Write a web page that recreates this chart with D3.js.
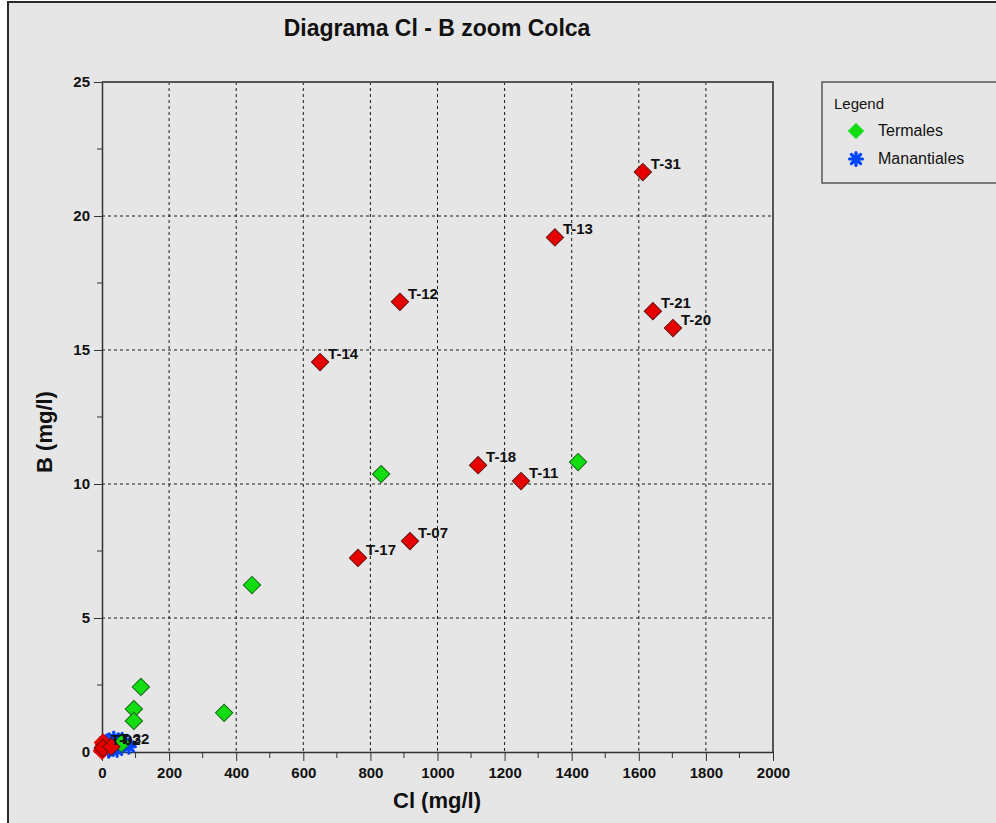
<!DOCTYPE html>
<html>
<head>
<meta charset="utf-8">
<script src="https://cdn.jsdelivr.net/npm/d3@7"></script>
<style>
  html, body { margin: 0; padding: 0; background: #ffffff; }
  svg { display: block; }
  .narrow { font-family: "Liberation Sans", Arial, sans-serif; font-weight: bold; }
  .reg { font-family: "Liberation Sans", Arial, sans-serif; }
</style>
</head>
<body>
<svg id="chart" width="996" height="823"></svg>
<script>
// Thermal springs (green diamonds) – Cl (mg/l), B (mg/l)
const termalesCl = [832, 1419, 447, 364, 116, 95, 95, 58];
const termalesB  = [10.37, 10.82, 6.23, 1.46, 2.43, 1.6, 1.16, 0.32];

// Labelled thermal sites (red diamonds)
const sitiosId = ["T-31", "T-13", "T-12", "T-14", "T-21", "T-20", "T-18", "T-11", "T-07", "T-17", "T-02", "T-32"];
const sitiosCl = [1612, 1350, 888, 650, 1642, 1702, 1121, 1249, 918, 763, 2, 28];
const sitiosB  = [21.64, 19.2, 16.8, 14.55, 16.45, 15.82, 10.7, 10.11, 7.87, 7.24, 0.15, 0.2];

// Extra unlabelled sites stacked at the origin
const origenCl = [0, 6, 3];
const origenB  = [0.05, 0.25, 0.35];

// Cold springs (blue asterisks)
const manantialesCl = [5, 12, 20, 30, 40, 50, 60, 15, 25, 45, 70, 35, 8, 80];
const manantialesB  = [0.1, 0.25, 0.05, 0.3, 0.2, 0.4, 0.45, 0.4, 0.12, 0.08, 0.35, 0.5, 0.35, 0.2];

// Axis ticks
const xMajor = [0, 200, 400, 600, 800, 1000, 1200, 1400, 1600, 1800, 2000];
const yMajor = [0, 5, 10, 15, 20, 25];

const legendItems = ["Termales", "Manantiales"];

const svg = d3.select("#chart");
const W = 996, H = 823;
const plot = { left: 102, right: 773, top: 82, bottom: 752 };

// panel background and frame
svg.append("rect").attr("x", 8).attr("y", 2).attr("width", W).attr("height", H)
  .attr("fill", "#e6e6e6");
svg.append("path").attr("d", `M8,${H} V2 H${W}`).attr("fill", "none")
  .attr("stroke", "#2a2a2a").attr("stroke-width", 2);

const x = d3.scaleLinear().domain([0, 2000]).range([plot.left, plot.right]);
const y = d3.scaleLinear().domain([0, 25]).range([plot.bottom, plot.top]);

// dashed grid
const grid = svg.append("g");
grid.selectAll(".gx").data(xMajor.slice(1, -1)).join("line")
  .attr("x1", d => x(d)).attr("x2", d => x(d))
  .attr("y1", plot.top).attr("y2", plot.bottom)
  .attr("stroke", "#1a1a1a").attr("stroke-width", 1).attr("stroke-dasharray", "3,3");
grid.selectAll(".gy").data(yMajor.slice(1, -1)).join("line")
  .attr("y1", d => y(d)).attr("y2", d => y(d))
  .attr("x1", plot.left).attr("x2", plot.right)
  .attr("stroke", "#1a1a1a").attr("stroke-width", 1).attr("stroke-dasharray", "3,3");

// frame top / right
svg.append("path").attr("d", `M${plot.left},${plot.top} H${plot.right} V${plot.bottom}`)
  .attr("fill", "none").attr("stroke", "#555").attr("stroke-width", 2);

// minor ticks
const xMinor = d3.range(100, 2000, 200);
const yMinor = d3.range(2.5, 25, 5);

const xAxis = d3.axisBottom(x).tickValues(xMajor).tickFormat(d3.format("d"))
  .tickSize(9).tickSizeOuter(0).tickPadding(6);
const gx = svg.append("g").attr("transform", `translate(0,${plot.bottom})`).call(xAxis);
gx.select(".domain").attr("stroke", "#333").attr("stroke-width", 1.5);
gx.selectAll(".tick line").attr("stroke", "#333");
gx.selectAll(".tick text").attr("class", "narrow").attr("font-size", 15).attr("fill", "#111");
gx.selectAll(".mtick").data(xMinor).join("line")
  .attr("x1", d => x(d)).attr("x2", d => x(d)).attr("y1", 0).attr("y2", 6).attr("stroke", "#333");

const yAxis = d3.axisLeft(y).tickValues(yMajor).tickFormat(d3.format("d"))
  .tickSize(8).tickSizeOuter(0).tickPadding(4);
const gy = svg.append("g").attr("transform", `translate(${plot.left},0)`).call(yAxis);
gy.select(".domain").attr("stroke", "#333").attr("stroke-width", 1.5);
gy.selectAll(".tick line").attr("stroke", "#333");
gy.selectAll(".tick text").attr("class", "narrow").attr("font-size", 15).attr("fill", "#111");
gy.selectAll(".mtick").data(yMinor).join("line")
  .attr("y1", d => y(d)).attr("y2", d => y(d)).attr("x1", 0).attr("x2", -5).attr("stroke", "#333");

// titles
svg.append("text").attr("class", "narrow").attr("x", 437).attr("y", 36)
  .attr("text-anchor", "middle").attr("font-size", 23).attr("fill", "#111")
  .text("Diagrama Cl - B zoom Colca");
svg.append("text").attr("class", "narrow").attr("x", 437).attr("y", 808)
  .attr("text-anchor", "middle").attr("font-size", 22).attr("fill", "#111")
  .text("Cl (mg/l)");
svg.append("text").attr("class", "narrow")
  .attr("transform", "translate(52,432) rotate(-90)")
  .attr("text-anchor", "middle").attr("font-size", 22).attr("fill", "#111")
  .text("B (mg/l)");

// marker helpers
const diamond = d3.symbol().type(d3.symbolSquare).size(150);
const asteriskPath = (r) => {
  let p = "";
  for (let k = 0; k < 4; k++) {
    const a = k * Math.PI / 4;
    const dx = r * Math.cos(a), dy = r * Math.sin(a);
    p += `M${-dx},${-dy}L${dx},${dy}`;
  }
  return p;
};

const pts = svg.append("g");

// cold springs
const manantiales = manantialesCl.map((c, i) => ({ cl: c, b: manantialesB[i] }));
pts.selectAll(".man").data(manantiales).join("path")
  .attr("transform", d => `translate(${x(d.cl)},${y(d.b)})`)
  .attr("d", asteriskPath(6.5)).attr("stroke", "#0044ff").attr("stroke-width", 3.2)
  .attr("stroke-linecap", "round").attr("fill", "none");

// thermal springs
const termales = termalesCl.map((c, i) => ({ cl: c, b: termalesB[i] }));
pts.selectAll(".ter").data(termales).join("path")
  .attr("transform", d => `translate(${x(d.cl)},${y(d.b)}) rotate(45)`)
  .attr("d", diamond).attr("fill", "#11dd11").attr("stroke", "#1a6a1a").attr("stroke-width", 1);

// labelled sites
const sitios = sitiosId.map((id, i) => ({ id, cl: sitiosCl[i], b: sitiosB[i] }));
const origen = origenCl.map((c, i) => ({ cl: c, b: origenB[i] }));
pts.selectAll(".org").data(origen).join("path")
  .attr("transform", d => `translate(${x(d.cl)},${y(d.b)}) rotate(45)`)
  .attr("d", diamond).attr("fill", "#e60000").attr("stroke", "#e60000").attr("stroke-width", 1);
pts.selectAll(".sit").data(sitios).join("path")
  .attr("transform", d => `translate(${x(d.cl)},${y(d.b)}) rotate(45)`)
  .attr("d", diamond).attr("fill", "#e60000").attr("stroke", "#6a1010").attr("stroke-width", 1);
pts.selectAll(".lab").data(sitios).join("text")
  .attr("class", "reg").attr("font-weight", "bold").attr("font-size", 15).attr("fill", "#111")
  .attr("x", d => x(d.cl) + 8).attr("y", d => y(d.b) - 3)
  .text(d => d.id);

// legend
const lg = svg.append("g");
lg.append("rect").attr("x", 822).attr("y", 82).attr("width", 190).attr("height", 101)
  .attr("fill", "#e6e6e6").attr("stroke", "#555").attr("stroke-width", 1.5);
lg.append("text").attr("class", "reg").attr("x", 834).attr("y", 109)
  .attr("font-size", 15).attr("fill", "#111").text("Legend");
lg.selectAll(".li").data(legendItems).join("text")
  .attr("class", "reg").attr("font-size", 16).attr("fill", "#111")
  .attr("x", 878).attr("y", (d, i) => 136 + i * 28).text(d => d);
lg.append("path").attr("transform", "translate(856,131) rotate(45)")
  .attr("d", d3.symbol().type(d3.symbolSquare).size(110)).attr("fill", "#11dd11").attr("stroke", "#11dd11");
lg.append("path").attr("transform", "translate(856,159)")
  .attr("d", asteriskPath(6.5)).attr("stroke", "#0044ff").attr("stroke-width", 3.2)
  .attr("stroke-linecap", "round").attr("fill", "none");
</script>
</body>
</html>
